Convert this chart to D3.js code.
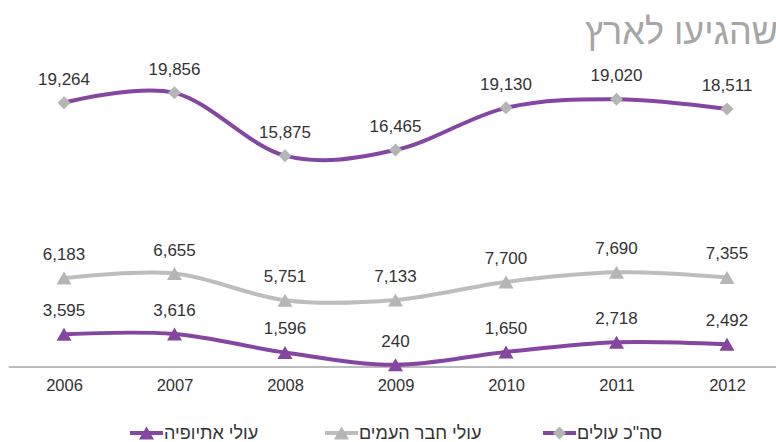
<!DOCTYPE html>
<html><head><meta charset="utf-8">
<script src="https://cdn.jsdelivr.net/npm/d3@7/dist/d3.min.js"></script>
<style>body{margin:0;background:#fff}svg{display:block}text{font-family:"Liberation Sans",Arial,sans-serif}</style>
</head><body><svg id="c" width="776" height="442"></svg>
<script>
const years = ["2006","2007","2008","2009","2010","2011","2012"];
const ethiopia = [3595,3616,1596,240,1650,2718,2492];
const fsu = [6183,6655,5751,7133,7700,7690,7355];
const total = [19264,19856,15875,16465,19130,19020,18511];
const seriesNames = ["עולי אתיופיה","עולי חבר העמים","סה\"כ עולים"];
const titleText = "שהגיעו לארץ";

const purple = "#8446a0", gray = "#bdbdbd", markGray = "#b5b5b5";
const svg = d3.select("#c");
const x = d3.scalePoint().domain(years).range([8.75,782.25]).padding(0.5);
const y = d3.scaleLinear().domain([0,40000]).range([367,3]);

// stacked values
const s1 = ethiopia.map(v=>v);
const s2 = fsu.map((v,i)=>v+s1[i]);
const s3 = total.map((v,i)=>v+s2[i]);

svg.append("text").attr("x",778).attr("y",44).attr("text-anchor","end")
  .attr("font-size",36).attr("fill","#a6a6a6").text(titleText);

// axis
const ax = svg.append("g").attr("transform","translate(0,367)")
  .call(d3.axisBottom(x).tickSize(0).tickPadding(12));
ax.select(".domain").attr("stroke","#a6a6a6").attr("stroke-width",1.5).attr("d","M8.75,0H782.25");
ax.selectAll("text").attr("font-size",16.5).attr("fill","#333").attr("font-family","Liberation Sans, Arial, sans-serif");

const line = d3.line().x((d,i)=>x(years[i])).y(d=>y(d)).curve(d3.curveCardinal.tension(0));
const tri = "M0,-6.5L7.5,6.5L-7.5,6.5Z";
const dia = "M0,-6.5L6.5,0L0,6.5L-6.5,0Z";

const series = [
  {stack:s1, vals:ethiopia, color:purple, mark:tri, mcolor:purple},
  {stack:s2, vals:fsu, color:gray, mark:tri, mcolor:markGray},
  {stack:s3, vals:total, color:purple, mark:dia, mcolor:markGray}
];
const fmt = d3.format(",");
series.forEach(s=>{
  svg.append("path").attr("d",line(s.stack)).attr("fill","none").attr("stroke",s.color).attr("stroke-width",4);
  svg.append("g").selectAll("path").data(s.stack).join("path")
    .attr("transform",(d,i)=>`translate(${x(years[i])},${y(d)})`)
    .attr("d",s.mark).attr("fill",s.mcolor);
  svg.append("g").selectAll("text").data(s.stack).join("text")
    .attr("x",(d,i)=>x(years[i])).attr("y",d=>y(d)-18).attr("text-anchor","middle")
    .attr("font-size",17).attr("fill","#333").text((d,i)=>fmt(s.vals[i]));
});

// legend
const leg = [
  {name:seriesNames[0], x:130, color:purple, mark:tri, mcolor:purple},
  {name:seriesNames[1], x:325, color:gray, mark:tri, mcolor:markGray},
  {name:seriesNames[2], x:543, color:purple, mark:dia, mcolor:markGray}
];
const lg = svg.append("g").attr("transform","translate(0,433)");
leg.forEach(l=>{
  lg.append("line").attr("x1",l.x).attr("x2",l.x+33).attr("y1",0).attr("y2",0).attr("stroke",l.color).attr("stroke-width",4);
  lg.append("path").attr("transform",`translate(${l.x+16.5},0)`).attr("d",l.mark).attr("fill",l.mcolor);
  lg.append("text").attr("x",l.x+34).attr("y",6).attr("font-size",18).attr("fill","#333")
    .attr("text-anchor","start").text(l.name);
});
</script></body></html>
